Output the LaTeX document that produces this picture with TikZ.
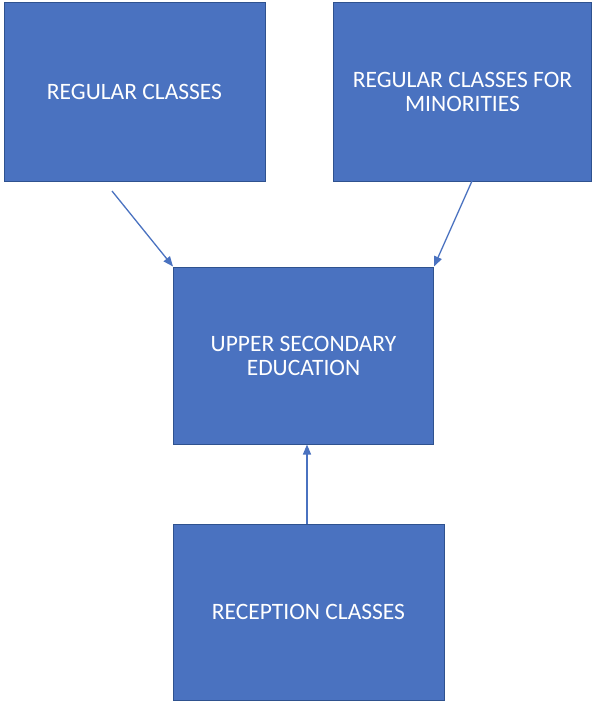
\documentclass[tikz,border=0pt]{standalone}
\usepackage{fontspec}
\setmainfont{Carlito}
\usetikzlibrary{arrows.meta}
\definecolor{boxfill}{HTML}{4A72C0}
\definecolor{boxline}{HTML}{2F528F}
\begin{document}
\begin{tikzpicture}[x=1pt,y=-1pt,
  box/.style={draw=boxline,line width=1pt,fill=boxfill,text=white,align=center,
    font=\fontsize{23.5}{24}\selectfont,inner sep=0pt},
  conn/.style={draw=boxfill,line width=1.3pt,-{Triangle[length=10pt,width=8pt]}}]
\useasboundingbox (0,0) rectangle (595,702);
\node[box,minimum width=261pt,minimum height=179pt] (rc) at (134.5,91.5) {REGULAR CLASSES};
\node[box,minimum width=258pt,minimum height=179pt] (rm) at (462.5,91.5) {REGULAR CLASSES FOR\\MINORITIES};
\node[box,minimum width=260pt,minimum height=177pt] (us) at (303.5,355.5) {UPPER SECONDARY\\EDUCATION};
\node[box,minimum width=271pt,minimum height=176pt] (re) at (308.5,612) {RECEPTION CLASSES};
\coordinate (a1) at (112,191);
\coordinate (a2) at (472,181);
\draw[conn] (a1) -- (us.north west);
\draw[conn] (a2) -- (us.north east);
\draw[conn] (re.north -| 307,0) -- (us.south -| 307,0);
\end{tikzpicture}
\end{document}
